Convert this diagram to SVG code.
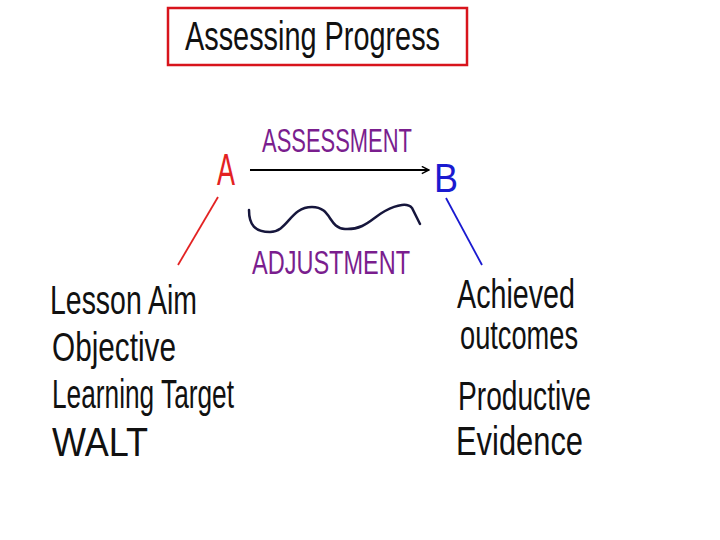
<svg xmlns="http://www.w3.org/2000/svg" width="720" height="540" viewBox="0 0 720 540">
<defs>
<style>
text{font-family:"Liberation Sans","DejaVu Sans",sans-serif;}
.hand{fill:#111;font-size:40px;}
.purple{fill:#7a1e8e;font-size:34px;}
</style>
<marker id="ah" viewBox="0 0 10 10" refX="9" refY="5" markerWidth="9" markerHeight="9" orient="auto" markerUnits="userSpaceOnUse">
<path d="M1,1 L9,5 L1,9" fill="none" stroke="#000" stroke-width="1.6"/>
</marker>
</defs>
<rect width="720" height="540" fill="#fff"/>
<g id="title">
<rect x="168" y="8" width="299" height="57" fill="none" stroke="#d8141c" stroke-width="2.5"/>
<text x="185" y="50" class="hand" font-size="44" textLength="255" lengthAdjust="spacingAndGlyphs">Assessing Progress</text>
</g>
<g id="nodeA"><text x="217" y="185" font-size="44" fill="#e32222" textLength="18" lengthAdjust="spacingAndGlyphs">A</text></g>
<g id="nodeB"><text x="434" y="192" font-size="40" fill="#1a1ad0" textLength="24" lengthAdjust="spacingAndGlyphs">B</text></g>
<g id="connectors">
<line x1="250" y1="170" x2="429" y2="170" stroke="#000" stroke-width="2.2" marker-end="url(#ah)"/>
<path d="M249,210 C249,225 255,232 270,232 C288,232 290,207 312,207 C332,207 328,228 345,229 C365,230 372,218 385,211 C398,204 408,203 412,208 L420,224" fill="none" stroke="#16163c" stroke-width="2.5" stroke-linecap="round"/>
<line x1="218" y1="197" x2="178" y2="265" stroke="#e32222" stroke-width="1.8"/>
<line x1="446" y1="198" x2="482" y2="265" stroke="#1a1ad0" stroke-width="1.8"/>
</g>
<g id="assessment"><text x="262" y="152" class="purple" textLength="150" lengthAdjust="spacingAndGlyphs">ASSESSMENT</text></g>
<g id="adjustment"><text x="252" y="274" class="purple" font-size="29" textLength="158" lengthAdjust="spacingAndGlyphs">ADJUSTMENT</text></g>
<g id="aims">
<text x="50" y="314" class="hand" textLength="147" lengthAdjust="spacingAndGlyphs">Lesson Aim</text>
<text x="52" y="361" class="hand" textLength="124" lengthAdjust="spacingAndGlyphs">Objective</text>
<text x="52" y="408" class="hand" textLength="182" lengthAdjust="spacingAndGlyphs">Learning Target</text>
<text x="52" y="456" class="hand" textLength="96" lengthAdjust="spacingAndGlyphs">WALT</text>
</g>
<g id="outcomes">
<text x="457" y="308" class="hand" font-size="32" textLength="118" lengthAdjust="spacingAndGlyphs">Achieved</text>
<text x="460" y="349" class="hand" font-size="32" textLength="118" lengthAdjust="spacingAndGlyphs">outcomes</text>
<text x="458" y="410" class="hand" textLength="133" lengthAdjust="spacingAndGlyphs">Productive</text>
<text x="456" y="455" class="hand" textLength="127" lengthAdjust="spacingAndGlyphs">Evidence</text>
</g>
</svg>
